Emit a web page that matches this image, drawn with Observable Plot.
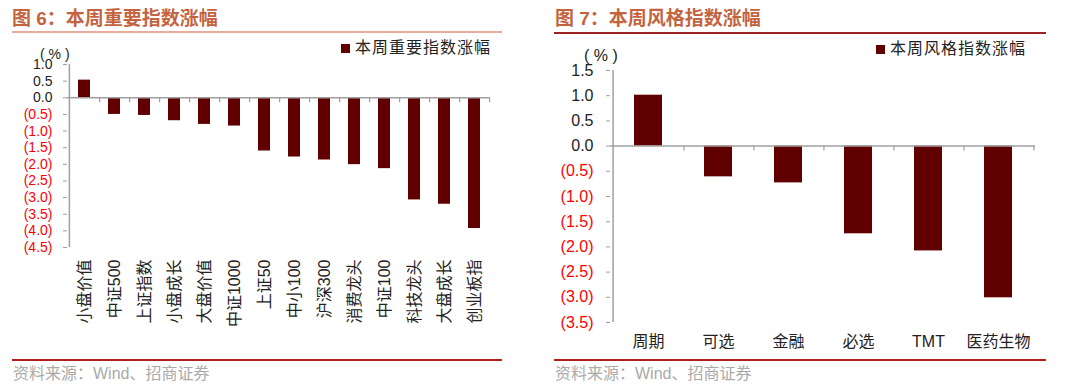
<!DOCTYPE html>
<html>
<head>
<meta charset="utf-8">
<script src="https://cdn.jsdelivr.net/npm/d3@7"></script>
<script src="https://cdn.jsdelivr.net/npm/@observablehq/plot@0.6"></script>
<style>
  html, body { margin: 0; padding: 0; background: #fff; }
  #wrap { position: relative; width: 1080px; height: 389px; overflow: hidden;
          font-family: "Liberation Sans", "Noto Sans CJK SC", sans-serif; }
  .panel { position: absolute; top: 0; width: 540px; height: 389px; }
  .panel svg { position: absolute; left: 0; top: 0; }
  .abs { position: absolute; white-space: nowrap; }
  .title { font-size: 19px; font-weight: bold; color: #c3643f; line-height: 1; }
  .legend { font-size: 16px; color: #222; letter-spacing: 1px; line-height: 1; display: flex; align-items: center; }
  .legend i { display: inline-block; width: 9px; height: 9px; background: #600000; margin-right: 5px; }
  .footer { font-size: 16px; color: #aaa; line-height: 1; }
  .line { position: absolute; height: 2px; }
</style>
</head>
<body>
<div id="wrap">
  <div class="panel" id="p1" style="left:0">
    <div class="abs title" style="left:12px; top:9px;">图 6：本周重要指数涨幅</div>
    <div class="line" style="left:12px; top:31px; width:490px; background:#e6ad9d;"></div>
    <div class="abs legend" style="left:341px; top:40px;"><i></i>本周重要指数涨幅</div>
    <div class="abs" style="left:40px; top:47px; font-size:14px; color:#222; line-height:1;">(&nbsp;%&nbsp;)</div>
    <div class="line" style="left:12px; top:359px; width:490px; background:#b01e1e;"></div>
    <div class="abs footer" style="left:13px; top:366px;">资料来源：Wind、招商证券</div>
  </div>
  <div class="panel" id="p2" style="left:540px">
    <div class="abs title" style="left:15px; top:9px;">图 7：本周风格指数涨幅</div>
    <div class="line" style="left:14px; top:32px; width:492px; background:#9e2424;"></div>
    <div class="abs legend" style="left:336px; top:41px;"><i></i>本周风格指数涨幅</div>
    <div class="abs" style="left:44px; top:48px; font-size:16px; color:#222; line-height:1;">(&nbsp;%&nbsp;)</div>
    <div class="line" style="left:14px; top:359px; width:492px; background:#b01e1e;"></div>
    <div class="abs footer" style="left:15px; top:366px;">资料来源：Wind、招商证券</div>
  </div>
</div>
<script>
// ---- Data ----
const leftCategories = ["小盘价值", "中证500", "上证指数", "小盘成长", "大盘价值", "中证1000", "上证50",
                        "中小100", "沪深300", "消费龙头", "中证100", "科技龙头", "大盘成长", "创业板指"];
const leftValues = [0.53, -0.50, -0.53, -0.69, -0.80, -0.85, -1.60, -1.78, -1.87, -2.01, -2.13, -3.07, -3.20, -3.93];
const leftYTicks = [1.0, 0.5, 0.0, -0.5, -1.0, -1.5, -2.0, -2.5, -3.0, -3.5, -4.0, -4.5];

const rightCategories = ["周期", "可选", "金融", "必选", "TMT", "医药生物"];
const rightValues = [1.01, -0.61, -0.73, -1.74, -2.08, -3.01];
const rightYTicks = [1.5, 1.0, 0.5, 0.0, -0.5, -1.0, -1.5, -2.0, -2.5, -3.0, -3.5];

const fmt = d => d < 0 ? `(${Math.abs(d).toFixed(1)})` : d.toFixed(1);
const axisColor = "#a0a0a0";
const fontFamily = '"Liberation Sans", "Noto Sans CJK SC", sans-serif';

function makeChart(cfg) {
  const {cats, vals, ticks, mt, mb, ml, mr, yFont, yPad, xFont, xPad, xRotate} = cfg;
  const width = 540, height = 389;
  const data = cats.map((c, i) => ({name: c, value: vals[i]}));
  const ymin = d3.min(ticks), ymax = d3.max(ticks);
  const step = (width - ml - mr) / cats.length;
  const pxPerUnit = (height - mt - mb) / (ymax - ymin);
  const tickLen = 5 / pxPerUnit;
  const pos = ticks.filter(t => t >= 0);
  const neg = ticks.filter(t => t < 0);
  return Plot.plot({
    width, height,
    marginTop: mt, marginBottom: mb, marginLeft: ml, marginRight: mr,
    style: {fontFamily, background: "transparent", overflow: "visible"},
    x: {domain: cats, paddingInner: 0.6, paddingOuter: 0.3, axis: null},
    y: {domain: [ymin, ymax], axis: null},
    marks: [
      Plot.barY(data, {x: "name", y: "value", fill: "#600000"}),
      Plot.ruleY([0], {stroke: axisColor, strokeWidth: 1.5}),
      Plot.ruleX(cats, {x: d => d, dx: step / 2, y1: 0, y2: -tickLen, stroke: axisColor, strokeWidth: 1.2}),
      Plot.ruleX([cats[0]], {x: d => d, dx: -step / 2, y1: ymin, y2: ymax, stroke: axisColor, strokeWidth: 1.5}),
      Plot.axisY(pos, {tickSize: 4, tickPadding: yPad, tickFormat: fmt, fill: "#222", stroke: axisColor, fontSize: yFont, label: null}),
      Plot.axisY(neg, {tickSize: 4, tickPadding: yPad, tickFormat: fmt, fill: "#ff0000", stroke: axisColor, fontSize: yFont, label: null}),
      Plot.axisX({tickSize: 0, tickPadding: xPad, tickRotate: xRotate, fontSize: xFont, fill: "#222", label: null})
    ]
  });
}

const c1 = makeChart({cats: leftCategories, vals: leftValues, ticks: leftYTicks,
  mt: 64, mb: 142, ml: 67, mr: 50, yFont: 14, yPad: 11, xFont: 16, xPad: 12, xRotate: -90});
const c2 = makeChart({cats: rightCategories, vals: rightValues, ticks: rightYTicks,
  mt: 70, mb: 67, ml: 70, mr: 45, yFont: 16, yPad: 13, xFont: 16, xPad: 13, xRotate: 0});
document.getElementById("p1").prepend(c1);
document.getElementById("p2").prepend(c2);
</script>
</body>
</html>
